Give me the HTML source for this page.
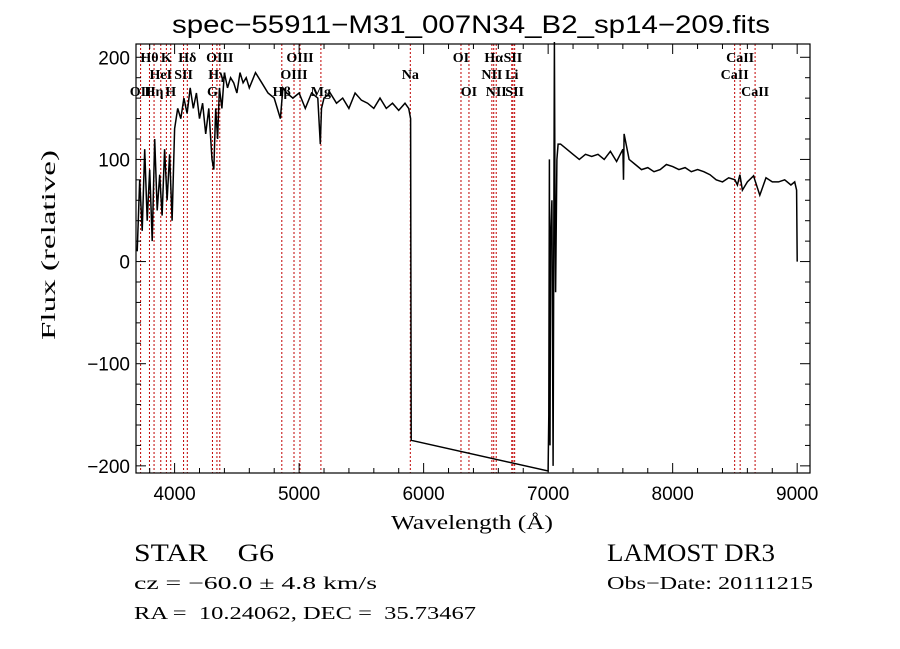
<!DOCTYPE html>
<html><head><meta charset="utf-8"><style>
html,body{margin:0;padding:0;background:#fff;}
svg{display:block;}
text{fill:#000;white-space:pre;}
</style></head><body>
<svg id="chart" width="900" height="649" viewBox="0 0 900 649" xmlns="http://www.w3.org/2000/svg" xml:space="preserve">
<rect width="900" height="649" fill="#fff"/>
<text x="172" y="33" font-family="Liberation Sans, sans-serif" font-size="25" textLength="598" lengthAdjust="spacingAndGlyphs">spec−55911−M31_007N34_B2_sp14−209.fits</text>
<g id="lines"></g>
<g id="spec"></g>
<g id="axes"></g>
<text x="391" y="529" font-family="Liberation Serif, serif" font-size="20" textLength="162" lengthAdjust="spacingAndGlyphs">Wavelength (Å)</text>
<text transform="translate(55,340) rotate(-90)" font-family="Liberation Serif, serif" font-size="20" textLength="190" lengthAdjust="spacingAndGlyphs">Flux (relative)</text>
<text x="134" y="561" font-family="Liberation Serif, serif" font-size="25" textLength="140" lengthAdjust="spacingAndGlyphs">STAR    G6</text>
<text x="607" y="561" font-family="Liberation Serif, serif" font-size="25" textLength="168" lengthAdjust="spacingAndGlyphs">LAMOST DR3</text>
<text x="134" y="589" font-family="Liberation Serif, serif" font-size="18" textLength="243" lengthAdjust="spacingAndGlyphs">cz = −60.0 ± 4.8 km/s</text>
<text x="607" y="589" font-family="Liberation Serif, serif" font-size="18" textLength="206" lengthAdjust="spacingAndGlyphs">Obs−Date: 20111215</text>
<text x="134" y="619" font-family="Liberation Serif, serif" font-size="18" textLength="342" lengthAdjust="spacingAndGlyphs">RA =  10.24062, DEC =  35.73467</text>
</svg>
<script>
const wave = [3700,3720,3740,3760,3780,3800,3820,3840,3860,3880,3900,3920,3940,3960,3980,4000,4025,4050,4075,4100,4125,4150,4175,4200,4225,4250,4275,4300,4315,4330,4345,4360,4380,4400,4425,4450,4475,4500,4525,4550,4575,4600,4650,4700,4750,4800,4850,4870,4900,4950,5000,5050,5100,5150,5170,5180,5200,5250,5300,5350,5400,5450,5500,5550,5600,5650,5700,5750,5800,5850,5880,5895,5900,7000,7005,7010,7015,7020,7030,7040,7050,7055,7060,7070,7080,7100,7150,7200,7250,7300,7350,7400,7450,7500,7550,7600,7605,7610,7650,7700,7750,7800,7850,7900,7950,8000,8050,8100,8150,8200,8250,8300,8350,8400,8450,8500,8520,8540,8560,8600,8650,8660,8700,8750,8800,8850,8900,8950,8980,8995,9000];
const flux = [10,80,30,110,40,90,20,120,50,85,45,110,60,105,40,130,150,140,160,145,170,150,165,140,155,125,150,100,90,150,120,170,150,185,170,180,175,165,185,175,180,170,185,175,165,160,140,170,165,160,165,150,165,160,115,150,160,165,155,160,150,165,158,155,150,160,150,155,148,155,150,140,-175,-205,-150,100,-180,20,60,-200,215,60,-30,100,115,115,110,105,100,105,103,105,100,108,98,110,80,125,100,95,90,92,88,90,95,93,90,92,88,90,88,85,80,78,82,80,75,85,70,78,84,80,65,82,78,78,80,75,78,70,0];
const lineWaves = [3727,3798,3835,3889,3934,3969,4072,4102,4304,4340,4363,4861,4959,5007,5175,5893,6300,6364,6548,6563,6583,6708,6717,6731,8498,8542,8662];
const lineLabels = [
 {t:"OII",w:3727,r:2},{t:"Hθ",w:3798,r:0},{t:"Hη",w:3835,r:2},{t:"HeI",w:3889,r:1},{t:"K",w:3934,r:0},{t:"H",w:3969,r:2},{t:"SII",w:4072,r:1},{t:"Hδ",w:4102,r:0},{t:"G",w:4304,r:2},{t:"Hγ",w:4340,r:1},{t:"OIII",w:4363,r:0},{t:"Hβ",w:4861,r:2},{t:"OIII",w:4959,r:1},{t:"OIII",w:5007,r:0},{t:"Mg",w:5175,r:2},{t:"Na",w:5893,r:1},{t:"OI",w:6300,r:0},{t:"OI",w:6364,r:2},{t:"NII",w:6548,r:1},{t:"Hα",w:6563,r:0},{t:"NII",w:6583,r:2},{t:"Li",w:6708,r:1},{t:"SII",w:6717,r:0},{t:"SII",w:6731,r:2},{t:"CaII",w:8498,r:1},{t:"CaII",w:8542,r:0},{t:"CaII",w:8662,r:2}];
const xTicks = [4000,5000,6000,7000,8000,9000];
const yTicks = [-200,-100,0,100,200];

const L=136,R=810,T=44,B=473;
const X0=3690,X1=9103,Y0=-207,Y1=213;
const x = w => L+(w-X0)/(X1-X0)*(R-L);
const y = f => B-(f-Y0)/(Y1-Y0)*(B-T);
const NS="http://www.w3.org/2000/svg";
function mk(tag,attrs,parent){const e=document.createElementNS(NS,tag);for(const k in attrs)e.setAttribute(k,attrs[k]);parent.appendChild(e);return e;}

const lg=document.getElementById('lines');
lineWaves.forEach(w=>{
  const e=mk('line',{x1:x(w),x2:x(w),y1:T,y2:B,stroke:'#c00000','stroke-width':1,'stroke-dasharray':'2,2'},lg);
  
  
});
lineLabels.forEach(d=>{
  const e=mk('text',{x:x(d.w),y:62+d.r*17,'font-family':'Liberation Serif, serif','font-size':14,'font-weight':'bold','text-anchor':'middle'},lg);
  e.textContent=d.t;
  
  
});

const sg=document.getElementById('spec');
const pts=wave.map((w,i)=>x(w).toFixed(1)+','+y(flux[i]).toFixed(1)).join(' ');
const pl=mk('polyline',{points:pts,fill:'none',stroke:'#000','stroke-width':1.5},sg);



const ag=document.getElementById('axes');
const box=mk('rect',{x:L,y:T,width:R-L,height:B-T,fill:'none',stroke:'#000','stroke-width':1.2},ag);


for(let w=3800;w<=9100;w+=200){
  const major=w%1000===0;const len=major?10:5;
  mk('line',{x1:x(w),x2:x(w),y1:B,y2:B-len,stroke:'#000'},ag);
  mk('line',{x1:x(w),x2:x(w),y1:T,y2:T+len,stroke:'#000'},ag);
}
xTicks.forEach(w=>{
  const t=mk('text',{x:x(w),y:B+27,'font-family':'Liberation Sans, sans-serif','font-size':19,'text-anchor':'middle'},ag);
  t.textContent=w;
  
  
});
for(let f=-200;f<=200;f+=20){
  const major=f%100===0;const len=major?10:5;
  mk('line',{x1:L,x2:L+len,y1:y(f),y2:y(f),stroke:'#000'},ag);
  mk('line',{x1:R,x2:R-len,y1:y(f),y2:y(f),stroke:'#000'},ag);
}
yTicks.forEach(f=>{
  const t=mk('text',{x:L-6,y:y(f)+7,'font-family':'Liberation Sans, sans-serif','font-size':19,'text-anchor':'end'},ag);
  t.textContent=f<0?'−'+(-f):f;
  
  
});
</script>
</body></html>
